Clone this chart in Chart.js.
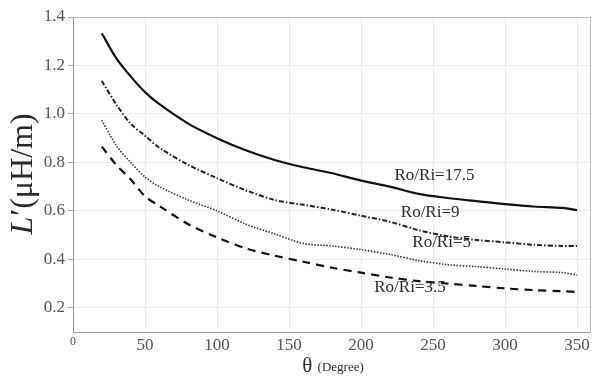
<!DOCTYPE html>
<html>
<head>
<meta charset="utf-8">
<script src="https://cdn.jsdelivr.net/npm/chart.js@4"></script>
<style>
  html, body { margin: 0; padding: 0; background: #fff; }
  #wrap { width: 600px; height: 378px; }
</style>
</head>
<body>
<div id="wrap"><canvas id="lChart" width="600" height="378"></canvas></div>
<script>
// ── data ────────────────────────────────────────────────
const theta   = [20, 30, 40, 50, 60, 80, 100, 120, 140, 160, 180, 200, 220, 240, 260, 280, 300, 320, 340, 350];
const r17_5   = [1.333, 1.23, 1.155, 1.09, 1.04, 0.96, 0.90, 0.85, 0.81, 0.78, 0.755, 0.725, 0.70, 0.67, 0.653, 0.64, 0.628, 0.618, 0.612, 0.603];
const r9      = [1.136, 1.04, 0.96, 0.91, 0.86, 0.79, 0.735, 0.685, 0.645, 0.625, 0.605, 0.58, 0.555, 0.52, 0.495, 0.48, 0.47, 0.46, 0.455, 0.455];
const r5      = [0.973, 0.87, 0.80, 0.74, 0.70, 0.645, 0.60, 0.545, 0.505, 0.465, 0.455, 0.44, 0.42, 0.395, 0.378, 0.37, 0.36, 0.35, 0.345, 0.335];
const r3_5    = [0.865, 0.79, 0.73, 0.66, 0.62, 0.545, 0.49, 0.445, 0.415, 0.39, 0.365, 0.345, 0.325, 0.31, 0.30, 0.29, 0.28, 0.273, 0.268, 0.265];
const xTicks  = [0, 50, 100, 150, 200, 250, 300, 350];
const yTicks  = [0.2, 0.4, 0.6, 0.8, 1.0, 1.2, 1.4];
const curveLabels = [
  { text: 'Ro/Ri=17.5', x: 251, y: 0.745 },
  { text: 'Ro/Ri=9',    x: 248, y: 0.595 },
  { text: 'Ro/Ri=5',    x: 256, y: 0.468 },
  { text: 'Ro/Ri=3.5',  x: 234, y: 0.282 }
];

const SERIF = '"Liberation Serif", "DejaVu Serif", serif';
const pts = ys => theta.map((t, i) => ({ x: t, y: ys[i] }));

// ── titles + curve labels drawn on canvas ───────────────
const annotate = {
  id: 'annotate',
  afterDraw(chart) {
    const { ctx, scales: { x, y }, chartArea: a } = chart;
    ctx.save();
    ctx.fillStyle = '#2a2a2a';
    ctx.textBaseline = 'middle';
    ctx.textAlign = 'center';
    ctx.font = '17px ' + SERIF;
    curveLabels.forEach(l => ctx.fillText(l.text, x.getPixelForValue(l.x), y.getPixelForValue(l.y)));

    // y title: L′(μH/m)
    ctx.translate(24, (a.top + a.bottom) / 2);
    ctx.rotate(-Math.PI / 2);
    ctx.font = 'italic 32px ' + SERIF;
    const p1 = 'L', p2 = '′(μH/m)';
    const w1 = ctx.measureText(p1).width;
    ctx.font = '32px ' + SERIF;
    const w2 = ctx.measureText(p2).width;
    let sx = -(w1 + w2) / 2;
    ctx.textAlign = 'left';
    ctx.font = 'italic 32px ' + SERIF;
    ctx.fillText(p1, sx, 0);
    ctx.font = '32px ' + SERIF;
    ctx.fillText(p2, sx + w1 + 1, 0);
    ctx.setTransform(1, 0, 0, 1, 0, 0);

    // x title: θ (Degree)
    ctx.font = '21px ' + SERIF;
    const t1 = 'θ ';
    const tw1 = ctx.measureText(t1).width;
    ctx.font = '13px ' + SERIF;
    const t2 = '(Degree)';
    const tw2 = ctx.measureText(t2).width;
    let tx = 333 - (tw1 + tw2) / 2;
    ctx.textAlign = 'left';
    ctx.font = '21px ' + SERIF;
    ctx.fillText(t1, tx, 366);
    ctx.font = '13px ' + SERIF;
    ctx.fillText(t2, tx + tw1, 368);
    ctx.restore();
  }
};

new Chart(document.getElementById('lChart'), {
  type: 'line',
  data: {
    datasets: [
      { label: 'Ro/Ri=17.5', data: pts(r17_5), borderColor: '#111', borderWidth: 2.2 },
      { label: 'Ro/Ri=9',    data: pts(r9),    borderColor: '#222', borderWidth: 2,   borderDash: [5, 2, 1.5, 2] },
      { label: 'Ro/Ri=5',    data: pts(r5),    borderColor: '#333', borderWidth: 1.6, borderDash: [1.5, 1.5] },
      { label: 'Ro/Ri=3.5',  data: pts(r3_5),  borderColor: '#111', borderWidth: 2.2, borderDash: [8, 6] }
    ]
  },
  options: {
    responsive: false,
    animation: false,
    layout: { padding: { top: 17, right: 10, left: 0, bottom: 0 } },
    elements: { point: { radius: 0 }, line: { tension: 0.3, fill: false } },
    plugins: { legend: { display: false }, tooltip: { enabled: false } },
    scales: {
      x: {
        type: 'linear', min: 0, max: 359,
        afterBuildTicks: s => { s.ticks = xTicks.map(v => ({ value: v })); },
        afterFit: s => { s.height = 46; },
        grid: { color: '#ececec', drawTicks: false },
        border: { color: '#999', width: 1 },
        ticks: {
          color: '#555', padding: 3,
          font: c => ({ family: SERIF, size: c.tick && c.tick.value === 0 ? 12 : 17 })
        }
      },
      y: {
        type: 'linear', min: 0.1, max: 1.4,
        afterBuildTicks: s => { s.ticks = yTicks.map(v => ({ value: v })); },
        afterFit: s => { s.width = 73; },
        grid: { color: '#ececec', drawTicks: true, tickLength: 5, tickColor: '#aaa' },
        border: { color: '#999', width: 1 },
        ticks: {
          color: '#555', padding: 3,
          font: { family: SERIF, size: 17 },
          callback: v => v.toFixed(1)
        }
      },
      x2: {
        type: 'linear', position: 'top', min: 0, max: 359,
        afterFit: s => { s.height = 0; },
        grid: { display: false }, ticks: { display: false },
        border: { color: '#bbb', width: 1 }
      },
      y2: {
        type: 'linear', position: 'right', min: 0.1, max: 1.4,
        afterFit: s => { s.width = 0; },
        grid: { display: false }, ticks: { display: false },
        border: { color: '#bbb', width: 1 }
      }
    }
  },
  plugins: [annotate]
});
</script>
</body>
</html>
